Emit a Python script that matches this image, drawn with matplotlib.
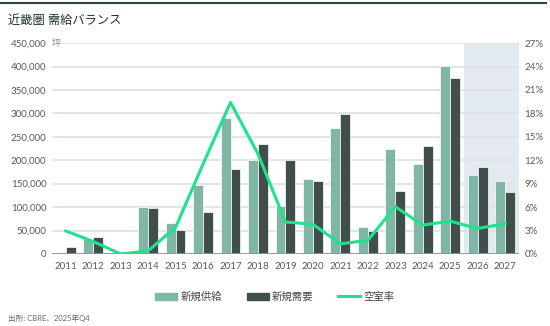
import matplotlib
matplotlib.use("Agg")
import matplotlib.pyplot as plt
import numpy as np
from matplotlib.patches import Patch
from matplotlib.lines import Line2D

plt.rcParams['font.family'] = ['Lato', 'Noto Sans CJK JP', 'DejaVu Sans']

years = [2011, 2012, 2013, 2014, 2015, 2016, 2017, 2018, 2019,
         2020, 2021, 2022, 2023, 2024, 2025, 2026, 2027]
supply = [0, 32000, 1000, 100000, 66000, 146500, 290000, 200000, 103000,
          159000, 268000, 57500, 225000, 192000, 401000, 168000, 156000]
demand = [15000, 35500, 2500, 98000, 50500, 90000, 180500, 235000, 200000,
          156000, 299000, 49000, 135000, 230000, 375000, 185000, 131500]
vacancy = [2.95, 1.6, 0.0, 0.4, 3.4, 11.5, 19.4, 12.8, 4.1,
           3.8, 1.3, 1.75, 6.05, 3.7, 4.2, 3.25, 3.9]
forecast_from = 2026

c_supply = '#80b6a5'
c_demand = '#404e4c'
c_line = '#1ee38c'
c_text = '#555c5b'

fig = plt.figure(figsize=(5.5, 3.26), dpi=100)
ax = fig.add_axes([0.0945, 0.2209, 0.849, 0.647])
ax2 = ax.twinx()

x = np.arange(len(years))
w = 0.36
fi = years.index(forecast_from)
ax.axvspan(fi - 0.5, len(years) - 0.5, color='#e2e9f0', zorder=0, lw=0)

ax.bar(x - w / 2, supply, w, color=c_supply, edgecolor='white', linewidth=0.5, zorder=3)
ax.bar(x + w / 2, demand, w, color=c_demand, edgecolor='white', linewidth=0.5, zorder=3)

ax.set_xlim(-0.5, len(years) - 0.5)
ax.set_ylim(0, 450000)
yt = np.arange(0, 450001, 50000)
ax.set_yticks(yt)
ax.set_yticklabels([f'{v:,}' for v in yt])
ax.set_xticks(x)
ax.set_xticklabels([str(y) for y in years])
ax.yaxis.grid(True, color='#dfe3e3', lw=1.3, zorder=1)
ax.set_axisbelow(True)
ax.tick_params(length=0, labelsize=7, colors=c_text, pad=4)
ax.tick_params(axis='x', pad=6)
for s in ax.spines.values():
    s.set_visible(False)
ax.axhline(0, color='#8e9494', lw=1.3, zorder=4)

ax2.plot(x, vacancy, color=c_line, lw=2.2, zorder=5)
ax2.set_ylim(0, 27)
ax2.set_yticks(np.arange(0, 28, 3))
ax2.set_yticklabels([f'{v}%' for v in range(0, 28, 3)])
ax2.tick_params(length=0, labelsize=7, colors=c_text, pad=4)
for s in ax2.spines.values():
    s.set_visible(False)

ax.text(0.0, 450000, '坪', transform=ax.get_yaxis_transform(), fontsize=6.5,
        color='#888', ha='left', va='center', zorder=6,
        bbox=dict(facecolor='white', edgecolor='none', pad=1.5))

fig.add_artist(Line2D([0.0, 0.993], [0.991, 0.991], color='#2d4442', lw=1.5))
fig.text(0.015, 0.94, '近畿圏 需給バランス', fontsize=8.8, color='#1f2e2d',
         ha='left', va='center')

handles = [Patch(color=c_supply), Patch(color=c_demand),
           Line2D([0], [0], color=c_line, lw=2.2)]
fig.legend(handles, ['新規供給', '新規需要', '空室率'], loc='center',
           bbox_to_anchor=(0.5, 0.09), ncol=3, frameon=False, fontsize=7.5,
           handlelength=2.1, handleheight=0.7, columnspacing=2.4,
           handletextpad=0.3, labelcolor='#444')
fig.text(0.015, 0.025, '出所: CBRE、2025年Q4', fontsize=5.5, color='#666',
         ha='left', va='center')

fig.savefig('out.png', dpi=100)
